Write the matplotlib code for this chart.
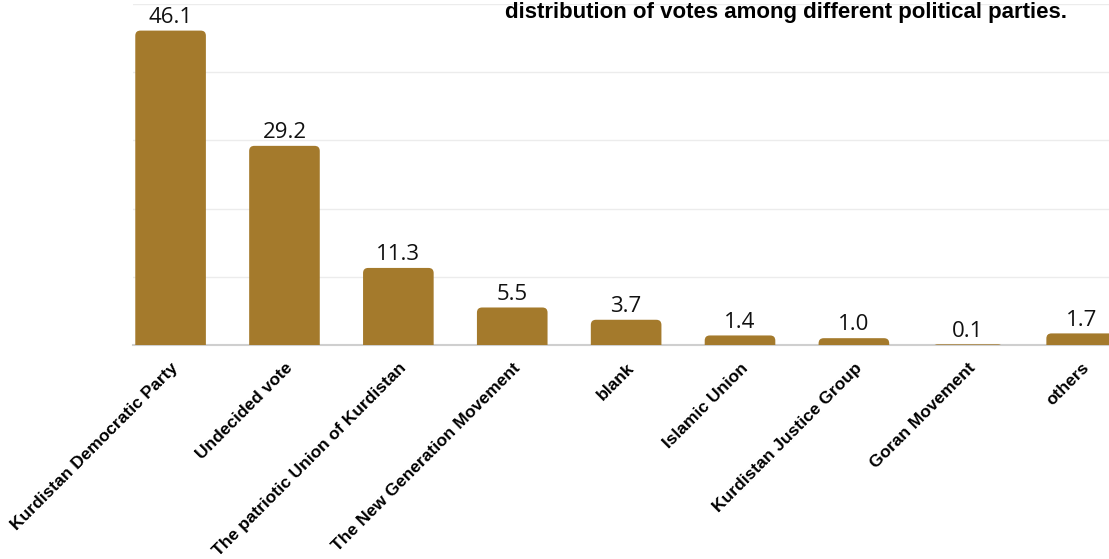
import matplotlib
matplotlib.use("Agg")
import matplotlib.pyplot as plt
from matplotlib.patches import FancyBboxPatch

# vote shares (%)
parties = ["Kurdistan Democratic Party", "Undecided vote",
           "The patriotic Union of Kurdistan", "The New Generation Movement",
           "blank", "Islamic Union", "Kurdistan Justice Group",
           "Goran Movement", "others"]
shares = [46.1, 29.2, 11.3, 5.5, 3.7, 1.4, 1.0, 0.1, 1.7]
yticks = [0, 10, 20, 30, 40, 50]

bar_color = "#A47A2C"

fig = plt.figure(figsize=(11.09, 5.59), dpi=100)
ax = fig.add_axes([133 / 1109, (559 - 345) / 559, 1 - 133 / 1109, 341 / 559])

x = list(range(len(parties)))
rects = ax.bar(x, shares, width=0.62, color=bar_color)

# swap plain rectangles for ones with rounded top corners
px_x = 114.0   # pixels per category
px_y = 341 / 50.0  # pixels per unit
for r in rects:
    x0, w, h = r.get_x(), r.get_width(), r.get_height()
    r.set_visible(False)
    p = FancyBboxPatch((x0, -1.5), w, h + 1.5,
                       boxstyle="round,pad=0,rounding_size=0.045",
                       mutation_aspect=px_x / px_y,
                       facecolor=bar_color, edgecolor="none", zorder=3)
    ax.add_patch(p)

for xi, v in zip(x, shares):
    ax.annotate(f"{v:.1f}", (xi, v), xytext=(0, 2), textcoords="offset points",
                ha="center", va="bottom", fontsize=16, family="Open Sans",
                color="#111111", zorder=4)

ax.set_ylim(0, 50)
ax.set_xlim(-0.33, 8.24)
ax.set_yticks(yticks)
ax.set_yticklabels([])
ax.tick_params(axis="y", length=0)
ax.grid(axis="y", color="#ececec", linewidth=1, zorder=0)
ax.set_axisbelow(True)
for s in ["top", "right", "left"]:
    ax.spines[s].set_visible(False)
ax.spines["bottom"].set_color("#cfcfcf")
ax.spines["bottom"].set_linewidth(1.5)

ax.set_xticks(x)
ax.set_xticklabels(parties, rotation=45, ha="right", rotation_mode="anchor",
                   fontsize=12.5, fontweight="bold", family="Liberation Sans")
ax.tick_params(axis="x", length=0, pad=11)

fig.text(505 / 1109, 541 / 559, "distribution of votes among different political parties.",
         fontsize=16, fontweight="bold", family="Liberation Sans",
         ha="left", va="baseline")

fig.savefig("out.png", dpi=100)
